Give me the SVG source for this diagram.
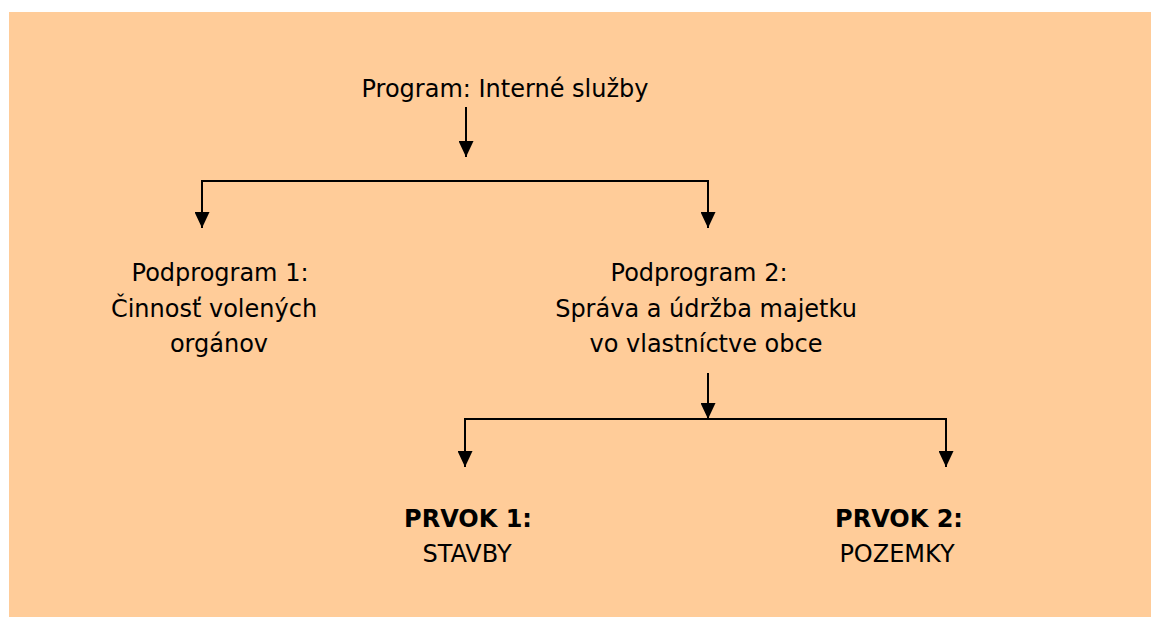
<svg xmlns="http://www.w3.org/2000/svg" width="1151" height="617" viewBox="0 0 1151 617">
<defs>
<marker id="ah" viewBox="0 0 16 15" refX="16" refY="7.5" markerWidth="16" markerHeight="15" markerUnits="userSpaceOnUse" orient="auto">
<path d="M0,0 L16,7.5 L0,15 Z" fill="#000"/>
</marker>
<style>
text{font-family:"DejaVu Sans","Liberation Sans",sans-serif;font-size:24px;fill:#000;text-anchor:middle}
.b{font-weight:bold}
.c{fill:none;stroke:#000;stroke-width:2}
</style>
</defs>
<rect x="0" y="0" width="1151" height="617" fill="#fff"/>
<rect x="9" y="12" width="1142" height="605" fill="#FFCC99"/>
<g id="n0"><text x="505" y="97">Program: Interné služby</text></g>
<g id="n1"><text x="220" y="281">Podprogram 1:</text><text x="214" y="317">Činnosť volených</text><text x="219" y="352">orgánov</text></g>
<g id="n2"><text x="699" y="281">Podprogram 2:</text><text x="706" y="317">Správa a údržba majetku</text><text x="706" y="352">vo vlastníctve obce</text></g>
<g id="n3"><text class="b" x="468" y="527">PRVOK 1:</text><text x="467" y="562">STAVBY</text></g>
<g id="n4"><text class="b" x="899" y="527">PRVOK 2:</text><text x="897" y="562">POZEMKY</text></g>
<g id="connectors">
<path class="c" d="M466,107 V157" marker-end="url(#ah)"/>
<path class="c" d="M202,181 H708"/>
<path class="c" d="M202,180 V228" marker-end="url(#ah)"/>
<path class="c" d="M708,180 V228" marker-end="url(#ah)"/>
<path class="c" d="M708,373 V419" marker-end="url(#ah)"/>
<path class="c" d="M465,419 H946"/>
<path class="c" d="M465,418 V467" marker-end="url(#ah)"/>
<path class="c" d="M946,418 V467" marker-end="url(#ah)"/>
</g>
</svg>
